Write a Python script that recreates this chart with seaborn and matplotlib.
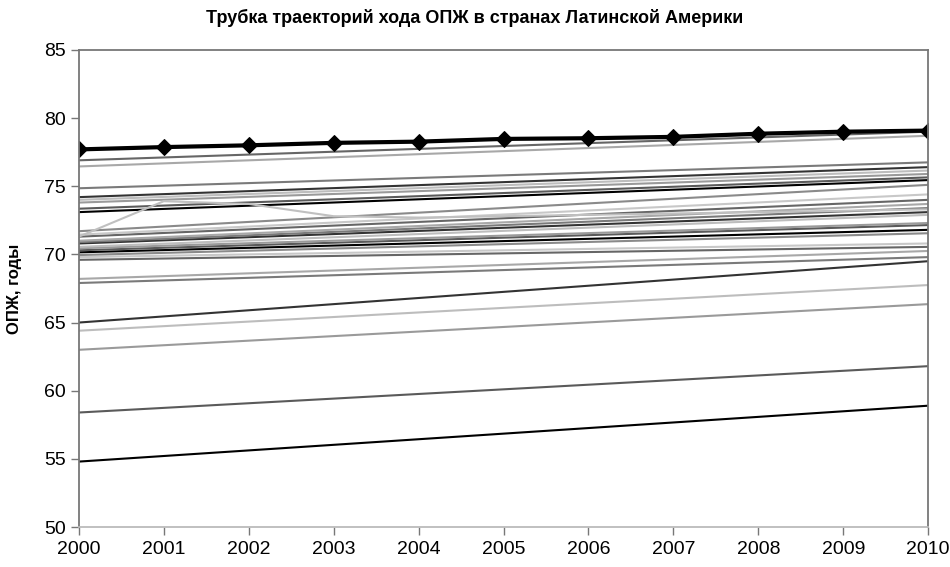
import numpy as np
import pandas as pd
import seaborn as sns
import matplotlib
matplotlib.use('Agg')
import matplotlib.pyplot as plt

# Life expectancy (ОПЖ) trajectories, Latin American countries, 2000-2010
years = [2000, 2001, 2002, 2003, 2004, 2005, 2006, 2007, 2008, 2009, 2010]
end_years = [2000, 2010]

# straight trajectories: value read at 2000 and at 2010
start_2000 = [54.8, 58.4, 63.0, 64.4, 65.0, 67.9, 68.2, 69.6, 69.8, 69.95,
              70.15, 70.3, 70.45, 70.55, 70.8, 70.9, 71.0, 71.3, 71.45, 71.7,
              73.1, 73.35, 73.8, 74.0, 74.2, 74.85, 76.45, 76.9]
end_2010 = [58.9, 61.8, 66.35, 67.75, 69.5, 69.8, 70.25, 70.55, 70.8, 71.55,
            71.8, 72.15, 72.3, 72.9, 73.1, 73.4, 73.7, 74.0, 74.4, 75.1,
            75.45, 75.65, 75.9, 76.15, 76.4, 76.75, 78.7, 79.0]

# one bent trajectory (jumps up in 2001, then falls back)
bent_values = [71.3, 73.9, 73.7, 72.8, 72.7, 72.8, 72.9, 73.0, 73.1, 73.2, 73.3]

# bold reference line with markers
top_values = [77.7, 77.87, 78.0, 78.18, 78.27, 78.47, 78.52, 78.62, 78.85, 79.0, 79.08]

title = 'Трубка траекторий хода ОПЖ в странах Латинской Америки'
ylabel = 'ОПЖ, годы'

rows = []
for i, (s, e) in enumerate(zip(start_2000, end_2010)):
    rows.append({'series': f's{i}', 'year': end_years[0], 'value': s})
    rows.append({'series': f's{i}', 'year': end_years[1], 'value': e})
df = pd.DataFrame(rows)

grays = ['#000000', '#5a5a5a', '#9a9a9a', '#bdbdbd', '#333333', '#7a7a7a',
         '#a8a8a8', '#666666', '#c8c8c8', '#8a8a8a']
palette = [grays[i % len(grays)] for i in range(len(start_2000))]

sns.set_style('white')
plt.rcParams['font.family'] = ['Liberation Sans', 'DejaVu Sans']

fig = plt.figure(figsize=(9.5, 5.67), dpi=100)
ax = fig.add_axes([0.083, 0.0705, 0.894, 0.8415])

sns.lineplot(data=df, x='year', y='value', hue='series', palette=palette,
             estimator=None, legend=False, linewidth=1.5, ax=ax)
sns.lineplot(x=years, y=bent_values, color='#c0c0c0', linewidth=1.5, ax=ax)
sns.lineplot(x=years, y=top_values, color='black', linewidth=3,
             marker='D', markersize=8, markeredgecolor='black', ax=ax)

ax.set_xlim(2000, 2010)
ax.set_ylim(50, 85)
ax.set_xticks(years)
ax.set_yticks(range(50, 86, 5))
ax.set_xlabel('')
ax.set_ylabel(ylabel, fontsize=12, fontweight='bold', color='black', labelpad=16)
ax.tick_params(axis='both', labelsize=14, direction='out', length=6,
               width=1, color='#777777', labelcolor='black', left=True, bottom=True)
ax.tick_params(axis='x', pad=4)
for sp in ax.spines.values():
    sp.set_color('#777777')
    sp.set_linewidth(1.3)
ax.spines['bottom'].set_color('#bbbbbb')

fig.text(0.5, 0.968, title, ha='center', va='center', fontsize=13,
         fontweight='bold', color='black')

fig.savefig('out.png', dpi=100)
plt.close(fig)
